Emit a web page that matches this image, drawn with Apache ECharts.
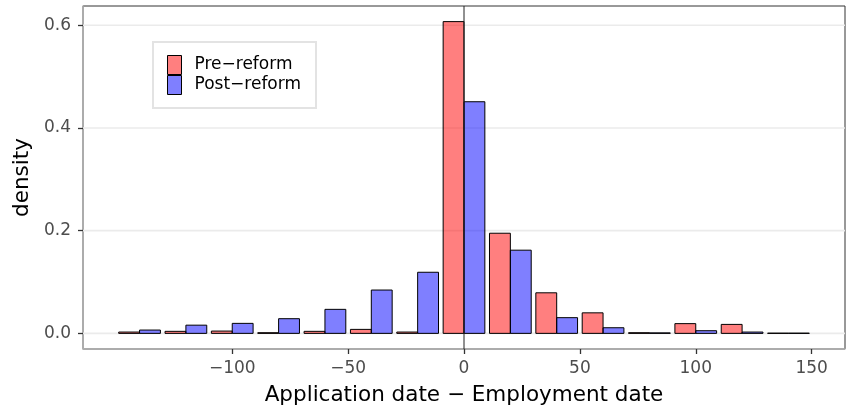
<!DOCTYPE html>
<html>
<head>
<meta charset="utf-8">
<script src="https://cdn.jsdelivr.net/npm/echarts@6/dist/echarts.min.js"></script>
<style>
  html, body { margin: 0; padding: 0; background: #ffffff; }
  #chart { width: 847px; height: 414px; }
</style>
</head>
<body>
<div id="chart"></div>
<script>
// Histogram of (application date − employment date), 20-day bins, dodged by period
const binCenters  = [-140, -120, -100, -80, -60, -40, -20, 0, 20, 40, 60, 80, 100, 120, 140];
const preReform   = [0.0026, 0.004, 0.0045, 0.0013, 0.004, 0.0078, 0.0026, 0.607, 0.195, 0.079, 0.040, 0.0013, 0.019, 0.0175, 0.0005];
const postReform  = [0.0065, 0.016, 0.0195, 0.0286, 0.0468, 0.0844, 0.119, 0.451, 0.162, 0.0306, 0.011, 0.001, 0.0052, 0.0026, 0.0005];
const xTicks = [-100, -50, 0, 50, 100, 150];
const yTicks = [0, 0.2, 0.4, 0.6];
const seriesNames = ['Pre−reform', 'Post−reform'];

const BIN_WIDTH = 20;
const DODGE = 0.9;
const X_MIN = -164.4, X_MAX = 164.4;
const Y_MIN = -0.0304, Y_MAX = 0.6374;
const FONT = '"DejaVu Sans", sans-serif';
const RED = 'rgba(255,0,0,0.5)';
const BLUE = 'rgba(0,0,255,0.5)';

function minus(v) { return String(v).replace('-', '\u2212'); }

// side: -1 draws the left half of the bin, +1 the right half
function barRenderer(side) {
  return function (params, api) {
    const c = api.value(0);
    const v = api.value(1);
    const half = BIN_WIDTH * DODGE / 2;
    const x0 = side < 0 ? c - half : c;
    const x1 = side < 0 ? c : c + half;
    const p0 = api.coord([x0, v]);
    const p1 = api.coord([x1, 0]);
    return {
      type: 'rect',
      shape: { x: p0[0], y: p0[1], width: p1[0] - p0[0], height: p1[1] - p0[1] },
      style: { fill: api.visual('color'), stroke: '#000000', lineWidth: 1 }
    };
  };
}

// full-width horizontal line at a y value
function hLineRenderer(params, api) {
  const y = api.value(0);
  const a = api.coord([X_MIN, y]);
  const b = api.coord([X_MAX, y]);
  return {
    type: 'line',
    shape: { x1: a[0], y1: a[1], x2: b[0], y2: b[1] },
    style: { stroke: '#ebebeb', lineWidth: 1.6 }
  };
}

// full-height vertical line at an x value
function vLineRenderer(params, api) {
  const x = api.value(0);
  const a = api.coord([x, Y_MIN]);
  const b = api.coord([x, Y_MAX]);
  return {
    type: 'line',
    shape: { x1: a[0], y1: a[1], x2: b[0], y2: b[1] },
    style: { stroke: '#222222', lineWidth: 1 }
  };
}

const chart = echarts.init(document.getElementById('chart'), null, { renderer: 'canvas' });

chart.setOption({
  backgroundColor: '#ffffff',
  animation: false,
  grid: {
    left: 83, right: 2, top: 6, bottom: 65,
    show: true, borderColor: '#333333', borderWidth: 1, backgroundColor: '#ffffff'
  },
  legend: {
    orient: 'vertical',
    left: 153, top: 42,
    padding: [13, 15, 13, 14],
    itemGap: 0,
    itemWidth: 14, itemHeight: 19,
    backgroundColor: '#ffffff',
    borderColor: '#e3e3e3', borderWidth: 2, borderRadius: 0,
    textStyle: { fontFamily: FONT, fontSize: 17, color: '#000000', padding: [0, 0, 0, 8] },
    data: [
      { name: seriesNames[0], icon: 'rect', itemStyle: { color: RED, borderColor: '#000', borderWidth: 1 } },
      { name: seriesNames[1], icon: 'rect', itemStyle: { color: BLUE, borderColor: '#000', borderWidth: 1 } }
    ]
  },
  xAxis: {
    type: 'value',
    min: X_MIN, max: X_MAX,
    name: 'Application date \u2212 Employment date',
    nameLocation: 'middle', nameGap: 35,
    nameTextStyle: { fontFamily: FONT, fontSize: 21.5, color: '#000000' },
    axisLine: { show: true, onZero: false, lineStyle: { color: '#b3b3b3', width: 1.5 } },
    axisTick: { show: true, length: 5, customValues: xTicks, lineStyle: { color: '#333333', width: 1.3 } },
    axisLabel: {
      show: true, customValues: xTicks, margin: 11,
      fontFamily: FONT, fontSize: 17, color: '#4d4d4d',
      formatter: minus
    },
    splitLine: { show: false }
  },
  yAxis: {
    type: 'value',
    min: Y_MIN, max: Y_MAX,
    name: 'density',
    nameLocation: 'middle', nameGap: 48,
    nameTextStyle: { fontFamily: FONT, fontSize: 21.5, color: '#000000' },
    axisLine: { show: true, onZero: false, lineStyle: { color: '#b3b3b3', width: 1.5 } },
    axisTick: { show: true, length: 5, customValues: yTicks, lineStyle: { color: '#333333', width: 1.3 } },
    axisLabel: {
      show: true, customValues: yTicks, margin: 12,
      fontFamily: FONT, fontSize: 17, color: '#4d4d4d',
      formatter: function (v) { return v.toFixed(1); }
    },
    splitLine: { show: false }
  },
  series: [
    {
      // horizontal reference lines behind the bars
      type: 'custom', silent: true, z: 1,
      renderItem: hLineRenderer,
      encode: { x: -1, y: 0 },
      data: yTicks.map(function (v) { return [v]; })
    },
    {
      name: seriesNames[0],
      type: 'custom', z: 2,
      itemStyle: { color: RED },
      renderItem: barRenderer(-1),
      encode: { x: 0, y: 1 },
      data: binCenters.map(function (c, i) { return [c, preReform[i]]; })
    },
    {
      name: seriesNames[1],
      type: 'custom', z: 2,
      itemStyle: { color: BLUE },
      renderItem: barRenderer(1),
      encode: { x: 0, y: 1 },
      data: binCenters.map(function (c, i) { return [c, postReform[i]]; })
    },
    {
      // vertical marker at zero
      type: 'custom', silent: true, z: 5,
      renderItem: vLineRenderer,
      encode: { x: 0, y: -1 },
      data: [[0]]
    }
  ]
});
</script>
</body>
</html>
